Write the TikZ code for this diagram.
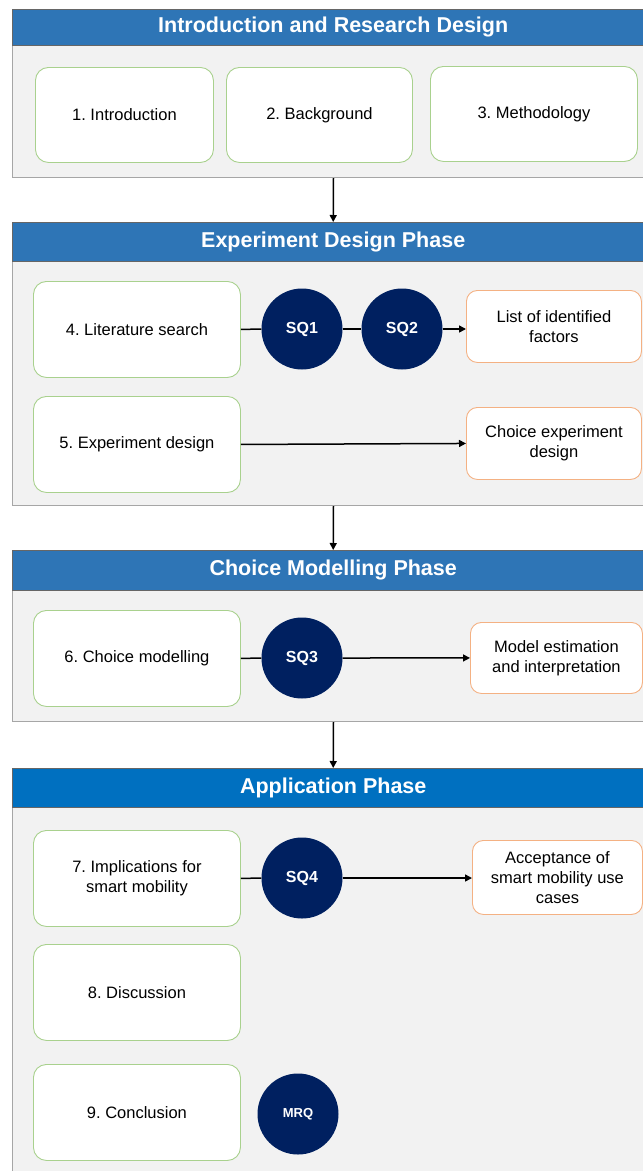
\documentclass[tikz,border=0pt]{standalone}
\usepackage{fontspec}
\setmainfont{Liberation Sans}
\usetikzlibrary{arrows.meta}
\frenchspacing
\definecolor{hdrblue}{HTML}{2E75B6}
\definecolor{appblue}{HTML}{0070C0}
\definecolor{panelgray}{HTML}{F2F2F2}
\definecolor{panelborder}{HTML}{A6A6A6}
\definecolor{navy}{HTML}{002060}
\definecolor{boxgreen}{HTML}{A9D18E}
\definecolor{boxorange}{HTML}{F4B183}
\begin{document}
\begin{tikzpicture}[x=1pt,y=-1pt,
 panel/.style={draw=panelborder, fill=panelgray, line width=1pt, inner sep=0pt, anchor=north west, minimum width=642pt},
 header/.style={draw=black!60, fill=hdrblue, text=white, font=\bfseries\fontsize{21.5}{24}\selectfont, inner sep=0pt, anchor=north west, minimum width=642pt},
 stepbox/.style={draw=boxgreen, fill=white, rounded corners=13pt, line width=0.9pt, font=\fontsize{16.5}{20}\selectfont, align=center, inner sep=0pt, anchor=north west, minimum width=207pt, minimum height=96pt},
 outbox/.style={draw=boxorange, fill=white, rounded corners=11pt, line width=0.9pt, font=\fontsize{16.5}{20}\selectfont, align=center, inner sep=0pt, anchor=north west, minimum width=175pt, minimum height=72pt},
 sqnode/.style={circle, fill=navy, text=white, font=\bfseries\fontsize{16}{18}\selectfont, minimum size=81pt, inner sep=0pt},
 link/.style={line width=1.5pt},
 arr/.style={link, -{Triangle[length=7pt,width=7pt]}}
]
\useasboundingbox (0,0) rectangle (643,1171);
\clip (0,0) rectangle (643,1171);
\fill[white] (0,0) rectangle (643,1171);

% Panel 1
\node[panel, minimum height=168pt] (p1) at (12,9) {};
\node[header, minimum height=36pt] (h1) at (12,9) {Introduction and Research Design};
\node[stepbox, minimum width=178pt, minimum height=95pt] (b1) at (35,67) {1. Introduction};
\node[stepbox, minimum width=186pt, minimum height=95pt] (b2) at (226,67) {2. Background};
\node[stepbox, minimum width=207pt, minimum height=95pt] (b3) at (430,66) {3. Methodology};

% Panel 2
\node[panel, minimum height=283pt] (p2) at (12,222) {};
\node[header, minimum height=39pt] (h2) at (12,222) {Experiment Design Phase};
\node[stepbox] (b4) at (33,281) {4. Literature search};
\node[sqnode] (sq1) at (302,329) {SQ1};
\node[sqnode] (sq2) at (402,329) {SQ2};
\node[outbox] (o1) at (466,290) {List of identified\\factors};
\node[stepbox] (b5) at (33,396) {5. Experiment design};
\node[outbox] (o2) at (466,407) {Choice experiment\\design};

% Panel 3
\node[panel, minimum height=171pt] (p3) at (12,550) {};
\node[header, minimum height=40pt] (h3) at (12,550) {Choice Modelling Phase};
\node[stepbox] (b6) at (33,610) {6. Choice modelling};
\node[sqnode] (sq3) at (302,658) {SQ3};
\node[outbox, minimum width=172pt, minimum height=71pt] (o3) at (470,622) {Model estimation\\and interpretation};

% Panel 4
\node[panel, minimum height=420pt] (p4) at (12,768) {};
\node[header, fill=appblue, minimum height=39pt] (h4) at (12,768) {Application Phase};
\node[stepbox] (b7) at (33,830) {7. Implications for\\smart mobility};
\node[sqnode] (sq4) at (302,878) {SQ4};
\node[outbox, minimum width=170pt, minimum height=74pt] (o4) at (472,840) {Acceptance of\\smart mobility use\\cases};
\node[stepbox] (b8) at (33,944) {8. Discussion};
\node[stepbox] (b9) at (33,1064) {9. Conclusion};
\node[sqnode, font=\bfseries\fontsize{13}{15}\selectfont] (mrq) at (298,1114) {MRQ};

% Connectors
\draw[arr] (p1.south) -- (h2.north);
\draw[arr] (p2.south) -- (h3.north);
\draw[arr] (p3.south) -- (h4.north);
\draw[link] (b4.east) -- (sq1.west);
\draw[link] (sq1.east) -- (sq2.west);
\draw[arr] (sq2.east) -- (sq2.east -| o1.west);
\draw[arr] (b5.east) -- (o2.west);
\draw[link] (b6.east) -- (sq3.west);
\draw[arr] (sq3.east) -- (o3.west);
\draw[link] (b7.east) -- (sq4.west);
\draw[arr] (sq4.east) -- (sq4.east -| o4.west);
\end{tikzpicture}
\end{document}
